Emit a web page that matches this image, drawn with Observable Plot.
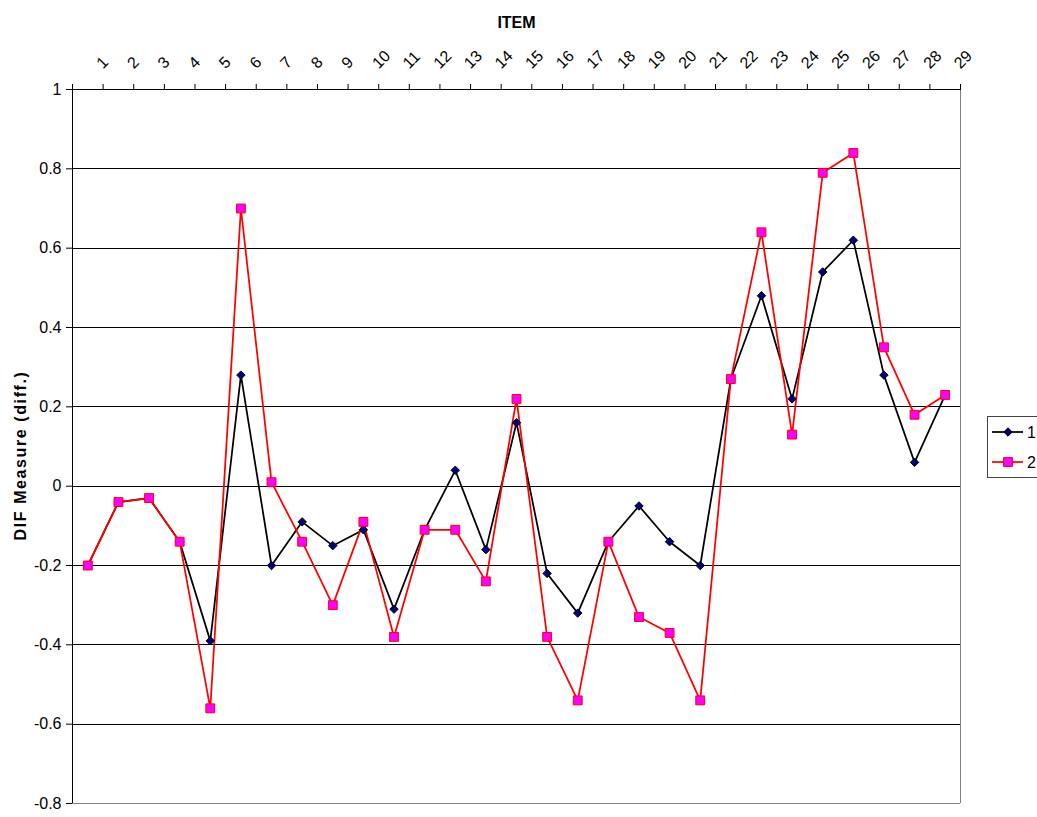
<!DOCTYPE html>
<html><head><meta charset="utf-8">
<script src="https://cdn.jsdelivr.net/npm/d3@7"></script>
<script src="https://cdn.jsdelivr.net/npm/@observablehq/plot@0.6"></script>
<style>
body{margin:0;background:#fff;font-family:"Liberation Sans",Arial,sans-serif;}
#wrap{position:relative;width:1037px;height:817px;overflow:hidden;background:#fff;}
#legend{position:absolute;left:987px;top:416px;}
.ytitle text{letter-spacing:1.6px;}
</style></head><body><div id="wrap"><div id="chart"></div><div id="legend"></div></div>
<script>
const items = [1,2,3,4,5,6,7,8,9,10,11,12,13,14,15,16,17,18,19,20,21,22,23,24,25,26,27,28,29];
const series1 = [-0.20,-0.04,-0.03,-0.14,-0.39,0.28,-0.20,-0.09,-0.15,-0.11,-0.31,-0.11,0.04,-0.16,0.16,-0.22,-0.32,-0.14,-0.05,-0.14,-0.20,0.27,0.48,0.22,0.54,0.62,0.28,0.06,0.23];
const series2 = [-0.20,-0.04,-0.03,-0.14,-0.56,0.70,0.01,-0.14,-0.30,-0.09,-0.38,-0.11,-0.11,-0.24,0.22,-0.38,-0.54,-0.14,-0.33,-0.37,-0.54,0.27,0.64,0.13,0.79,0.84,0.35,0.18,0.23];
const seriesNames = ["1","2"];
const yTicks = [-0.8,-0.6,-0.4,-0.2,0,0.2,0.4,0.6,0.8,1];
const xTitle = "ITEM";
const yTitle = "DIF Measure (diff.)";

const d1 = items.map((item,i)=>({item, value: series1[i]}));
const d2 = items.map((item,i)=>({item, value: series2[i]}));
const boundaries = [0, ...items].map(k => k + 0.5);

const fmt = d => String(+(+d).toFixed(1));

const chart = Plot.plot({
  width: 1037, height: 817,
  marginLeft: 72, marginRight: 77, marginTop: 89, marginBottom: 14,
  style: {fontSize: "16px", fontFamily: "'Liberation Sans', Arial, sans-serif", background: "white", overflow: "visible", color: "#000"},
  x: {type: "linear", domain: [0.5, 29.5]},
  y: {domain: [-0.8, 1]},
  marks: [
    Plot.ruleY(yTicks.filter(v => v > -0.8 && v < 1), {stroke: "#000", strokeWidth: 1, shapeRendering: "crispEdges"}),
    Plot.ruleY([-0.8], {stroke: "#808080", strokeWidth: 1, shapeRendering: "crispEdges"}),
    Plot.ruleX([29.5], {y1: -0.8, y2: 1, stroke: "#808080", strokeWidth: 1, shapeRendering: "crispEdges"}),
    Plot.axisY({ticks: yTicks, tickFormat: fmt, tickSize: 6, tickPadding: 5, label: null, stroke: "#000", fontSize: 16}),
    Plot.axisX({anchor: "top", ticks: boundaries, tickFormat: () => "", tickSize: 6, label: null, stroke: "#000"}),
    Plot.ruleX([0.5], {y1: -0.8, y2: 1, stroke: "#000", strokeWidth: 1, shapeRendering: "crispEdges"}),
    Plot.ruleY([1], {stroke: "#000", strokeWidth: 1, shapeRendering: "crispEdges"}),
    Plot.text(items, {x: d => d + 0.5, text: d => String(d), frameAnchor: "top", dy: -20, rotate: -45, textAnchor: "start", lineAnchor: "bottom", fontSize: 16}),
    Plot.text([xTitle], {frameAnchor: "top", dy: -73, fontWeight: "bold", fontSize: 16}),
    Plot.text([yTitle], {frameAnchor: "left", textAnchor: "middle", dx: -52, dy: 9, rotate: -90, fontWeight: "bold", fontSize: 16, className: "ytitle"}),
    Plot.line(d1, {x: "item", y: "value", stroke: "#000", strokeWidth: 1.75}),
    Plot.line(d2, {x: "item", y: "value", stroke: "#ff0000", strokeWidth: 1.75}),
    Plot.dot(d1, {x: "item", y: "value", symbol: "diamond2", r: 3.8, fill: "#000080", stroke: "#000", strokeWidth: 1}),
    Plot.dot(d2, {x: "item", y: "value", symbol: "square", r: 5, fill: "#ff00ff", stroke: "#ff0000", strokeWidth: 1})
  ]
});
document.getElementById("chart").appendChild(chart);

// legend
const legendItems = [
  {label: seriesNames[0], stroke: "#000", fill: "#000080", symbol: d3.symbolDiamond2, size: Math.PI*3.8*3.8, mstroke: "#000"},
  {label: seriesNames[1], stroke: "#ff0000", fill: "#ff00ff", symbol: d3.symbolSquare, size: Math.PI*5*5, mstroke: "#ff0000"}
];
const lg = d3.select("#legend").append("svg").attr("width", 60).attr("height", 64)
  .style("font-family", "'Liberation Sans', Arial, sans-serif");
lg.append("rect").attr("x", 0.5).attr("y", 0.5).attr("width", 70).attr("height", 61)
  .attr("fill", "white").attr("stroke", "#444");
legendItems.forEach((it, i) => {
  const y = 16 + i * 30;
  const g = lg.append("g");
  g.append("line").attr("x1", 5).attr("x2", 36).attr("y1", y).attr("y2", y).attr("stroke", it.stroke).attr("stroke-width", 1.75);
  g.append("path").attr("d", d3.symbol(it.symbol, it.size)()).attr("transform", `translate(21,${y})`)
    .attr("fill", it.fill).attr("stroke", it.mstroke);
  g.append("text").attr("x", 40).attr("y", y).attr("dy", "0.36em").attr("font-size", 16).text(it.label);
});
</script></body></html>
